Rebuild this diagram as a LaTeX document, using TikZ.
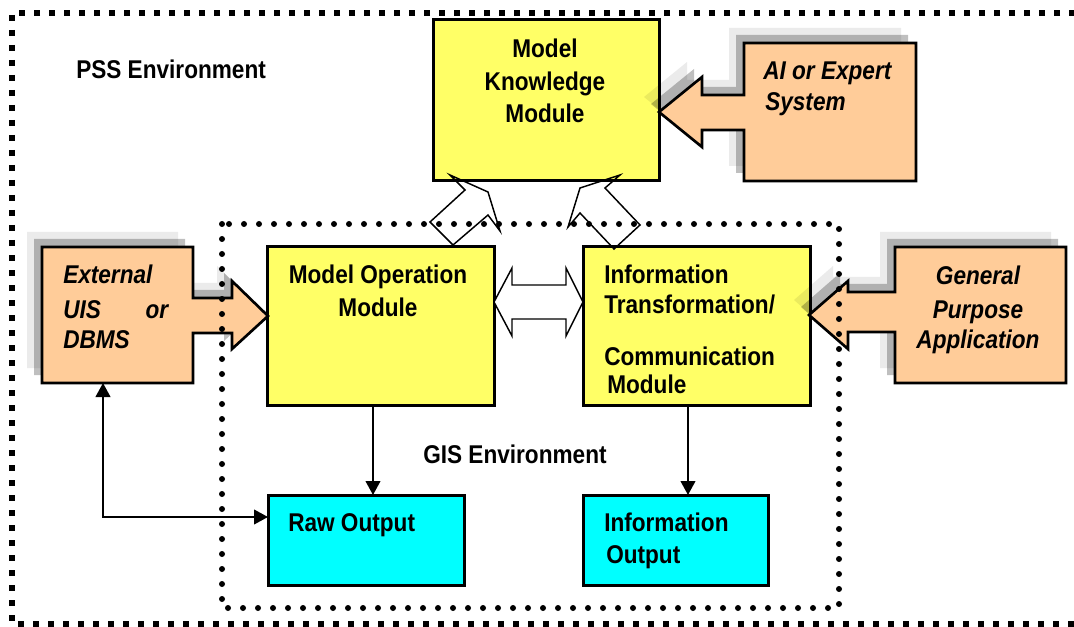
\documentclass[tikz,border=0pt]{standalone}
\usepackage{fontspec}
\newfontfamily\lab{Liberation Sans}[FakeStretch=0.88]
\usetikzlibrary{arrows.meta}
\definecolor{modyellow}{HTML}{FFFF66}
\definecolor{outcyan}{HTML}{00FFFF}
\definecolor{extorange}{HTML}{FFCC99}
\newcommand\labfont{\lab\bfseries\fontsize{19.26pt}{24pt}\selectfont}
\def\aishape{(744,43) -- (916,43) -- (916,181) -- (744,181) -- (744,130) -- (702,130) -- (702,147) -- (659,112) -- (702,77) -- (702,95) -- (744,95) -- cycle}
\def\extshape{(42,247) -- (193,247) -- (193,298) -- (232,298) -- (232,281) -- (268,316) -- (232,349) -- (232,333) -- (193,333) -- (193,383) -- (42,383) -- cycle}
\def\genshape{(895,247) -- (1066,247) -- (1066,383) -- (895,383) -- (895,332) -- (848,332) -- (848,349) -- (809,315) -- (848,281) -- (848,292) -- (895,292) -- cycle}
\begin{document}
\begin{tikzpicture}[x=0.75pt,y=-0.75pt,
  font=\labfont,
  modbox/.style={draw, line width=2.25pt, inner sep=0pt, outer sep=0pt},
  ymod/.style={modbox, fill=modyellow},
  cout/.style={modbox, fill=outcyan},
  anchorbox/.style={inner sep=0pt, outer sep=0pt},
  txt/.style={inner sep=0pt, anchor=base west},
  txtc/.style={inner sep=0pt, anchor=base},
  itxt/.style={font={\labfont\itshape}},
  conn/.style={line width=1.5pt, -{Triangle[length=10.5pt,width=11pt]}},
  dconn/.style={line width=1.5pt, {Triangle[length=10.5pt,width=11pt]}-{Triangle[length=10.5pt,width=11pt]}},
  blockarr/.style={draw, line width=1.1pt, line join=miter},
  callout/.style={draw, line width=2pt, fill=extorange, line join=miter},
  shdark/.style={fill=black, opacity=0.25},
  shlight/.style={fill=black, opacity=0.08},
  outerenv/.style={line width=4.3pt, dash pattern=on 4.5pt off 6.75pt},
  innerenv/.style={line width=4.5pt, line cap=round, dash pattern=on 0pt off 11.25pt}]
\useasboundingbox[fill=white] (0,0) rectangle (1074,627);

% module boxes
\node[ymod, minimum width=169.5pt, minimum height=120.75pt] (mkm) at (546,100.5) {};
\node[ymod, minimum width=170.25pt, minimum height=118.5pt] (mom) at (380.5,326) {};
\node[ymod, minimum width=170.25pt, minimum height=118.5pt] (itc) at (696.5,326) {};
\node[cout, minimum width=147pt, minimum height=67.5pt] (raw) at (366,540) {};
\node[cout, minimum width=138.75pt, minimum height=67.5pt] (info) at (675.5,540) {};

% external callouts (anchor nodes for the bodies)
\node[anchorbox, minimum width=129pt, minimum height=103.5pt] (ai) at (830,112) {};
\node[anchorbox, minimum width=113.25pt, minimum height=102pt] (ext) at (117.5,315) {};
\node[anchorbox, minimum width=128.25pt, minimum height=102pt] (gen) at (980.5,315) {};

\fill[shlight, shift={(-15,-15)}] \aishape;
\fill[shdark, shift={(-8,-8)}] \aishape;
\fill[shlight, shift={(-15,-15)}] \extshape;
\fill[shdark, shift={(-8,-8)}] \extshape;
\fill[shlight, shift={(-15,-15)}] \genshape;
\fill[shdark, shift={(-8,-8)}] \genshape;
\draw[callout] \aishape;
\draw[callout] \extshape;
\draw[callout] \genshape;

% block arrows
\draw[blockarr, fill=white] (494,302) -- (512,268) -- (512,285) -- (566,285) -- (566,268) -- (583,302) -- (566,336) -- (566,319) -- (512,319) -- (512,336) -- cycle;
\draw[blockarr] (450,175) -- (465,190) -- (430,222) -- (453,245) -- (488,215) -- (500,231) -- (488,192) -- cycle;
\draw[blockarr] (620,175) -- (605,188) -- (640,225) -- (614,249) -- (580,213) -- (568,227) -- (580,188) -- cycle;

% connectors
\draw[conn] ([xshift=-5.625pt]mom.south) -- ([xshift=-5.625pt]mom.south |- raw.north);
\draw[conn] ([xshift=-6.375pt]itc.south) -- ([xshift=-6.375pt]itc.south |- info.north);
\draw[dconn] ([xshift=-10.875pt]ext.south) |- ([yshift=17.25pt]raw.west);

% environments
\draw[outerenv] (1090,13) -- (12,13) -- (12,624) -- (1090,624);
\draw[innerenv] (222,224) rectangle (839,608);

% texts
\node[txt] (pss) at (76,79) {PSS Environment};
\node[txtc] (mkm1) at (545,58) {Model};
\node[txtc] (mkm2) at (545,91) {Knowledge};
\node[txtc] (mkm3) at (545,123) {Module};
\node[txt, itxt] (ai1) at (763,80) {AI or Expert};
\node[txt, itxt] (ai2) at (765,111) {System};
\node[txt, itxt] (ext1) at (63,283) {External};
\node[txt, itxt] (ext2) at (63,318) {\makebox[78.75pt][l]{UIS\hfill or}};
\node[txt, itxt] (ext3) at (63,348) {DBMS};
\node[txtc, itxt] (gen1) at (978,285) {General};
\node[txtc, itxt] (gen2) at (978,318) {Purpose};
\node[txtc, itxt] (gen3) at (978,348) {Application};
\node[txtc] (mom1) at (378,284) {Model Operation};
\node[txtc] (mom2) at (378,316) {Module};
\node[txt] (itc1) at (604,283) {Information};
\node[txt] (itc2) at (604,313) {Transformation/};
\node[txt] (itc3) at (604,365) {Communication};
\node[txt] (itc4) at (607,393) {Module};
\node[txt] (gis) at (423,463) {GIS Environment};
\node[txt] (rawt) at (288,531) {Raw Output};
\node[txt] (info1) at (604,531) {Information};
\node[txt] (info2) at (606,563) {Output};
\end{tikzpicture}
\end{document}
